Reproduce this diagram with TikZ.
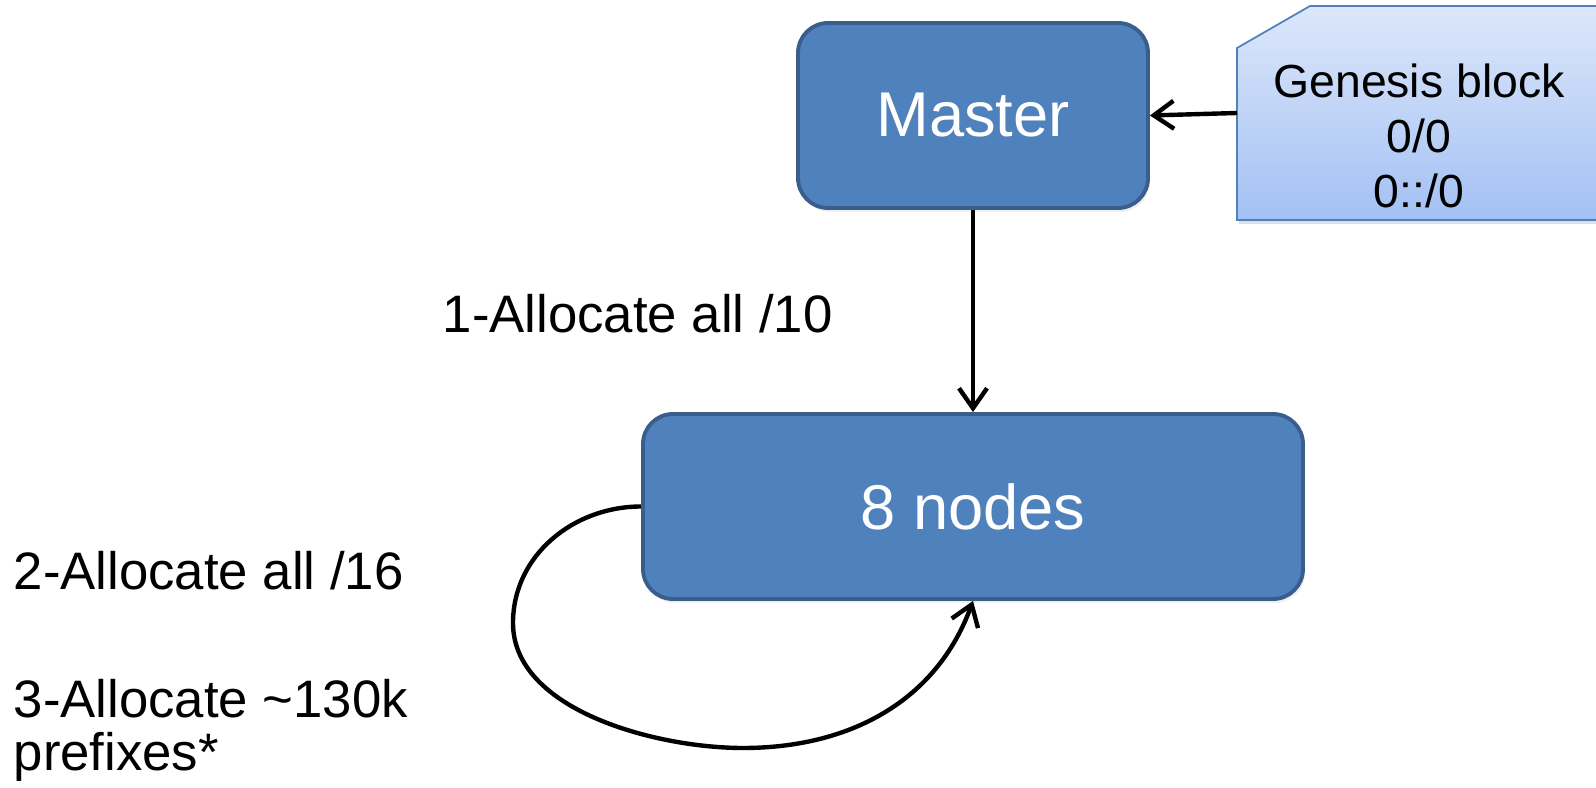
\documentclass[tikz,border=0pt]{standalone}
\usepackage{fontspec}
\setmainfont{Liberation Sans}
\usetikzlibrary{arrows.meta,shadows}
\definecolor{boxblue}{HTML}{4F81BD}
\definecolor{boxedge}{HTML}{3A5E8C}
\definecolor{gentop}{HTML}{DDE7FA}
\definecolor{genbot}{HTML}{A3C1F4}

\begin{document}
\begin{tikzpicture}[>={Straight Barb[length=2mm,width=2.8mm]},
  box/.style={draw=boxedge, line width=1.1pt, fill=boxblue, rounded corners=0.3cm, text=white,
    font=\fontsize{18}{20}\selectfont, minimum height=1.85cm,
    drop shadow={opacity=0.12, shadow xshift=0.02cm, shadow yshift=-0.04cm}},
  lbl/.style={anchor=base west, inner sep=0pt, align=left, font=\fontsize{15}{15}\selectfont},
  link/.style={->, line width=1.25pt}]
  \useasboundingbox (0,0) rectangle (15.96,7.88);
  \node[box, minimum width=3.5cm] (master) at (9.73,6.725) {Master};
  \node[box, minimum width=6.6cm] (nodes) at (9.73,2.815) {8 nodes};
  % genesis block: snipped corner, runs off the right edge
  \fill[black, opacity=0.12]
    (12.39,5.64) -- (12.39,7.38) -- (13.12,7.80) -- (16.4,7.80) -- (16.4,5.64) -- cycle;
  \draw[boxblue, line width=0.5pt, top color=gentop, bottom color=genbot]
    (12.37,5.68) -- (12.37,7.40) -- (13.10,7.82) -- (16.4,7.82) -- (16.4,5.68) -- cycle;
  \node[anchor=base, inner sep=0pt, align=center, font=\fontsize{13.2}{15.7}\selectfont] (genesis) at (14.19,5.80) {Genesis block\\0/0\\0::/0};
  \coordinate (genin) at (12.37,6.75);
  % 1: master hands out the /10s
  \draw[link] (genin) -- (master.east);
  \draw[link] (master.south) -- (nodes.north);
  \node[lbl] (step1) at (4.42,4.55) {1-Allocate all /10};
  % 2 + 3: the nodes split among themselves
  \draw[link] (nodes.west) to[out=180, in=90] (5.13,1.65)
    to[out=-90, in=180, looseness=0.85] (7.43,0.40) to[out=0, in=-110] (nodes.south);
  \node[lbl] (step2) at (0.13,1.98) {2-Allocate all /16};
  \node[lbl] (step3) at (0.13,0.18) {3-Allocate \textasciitilde130k\\prefixes*};
\end{tikzpicture}
\end{document}
